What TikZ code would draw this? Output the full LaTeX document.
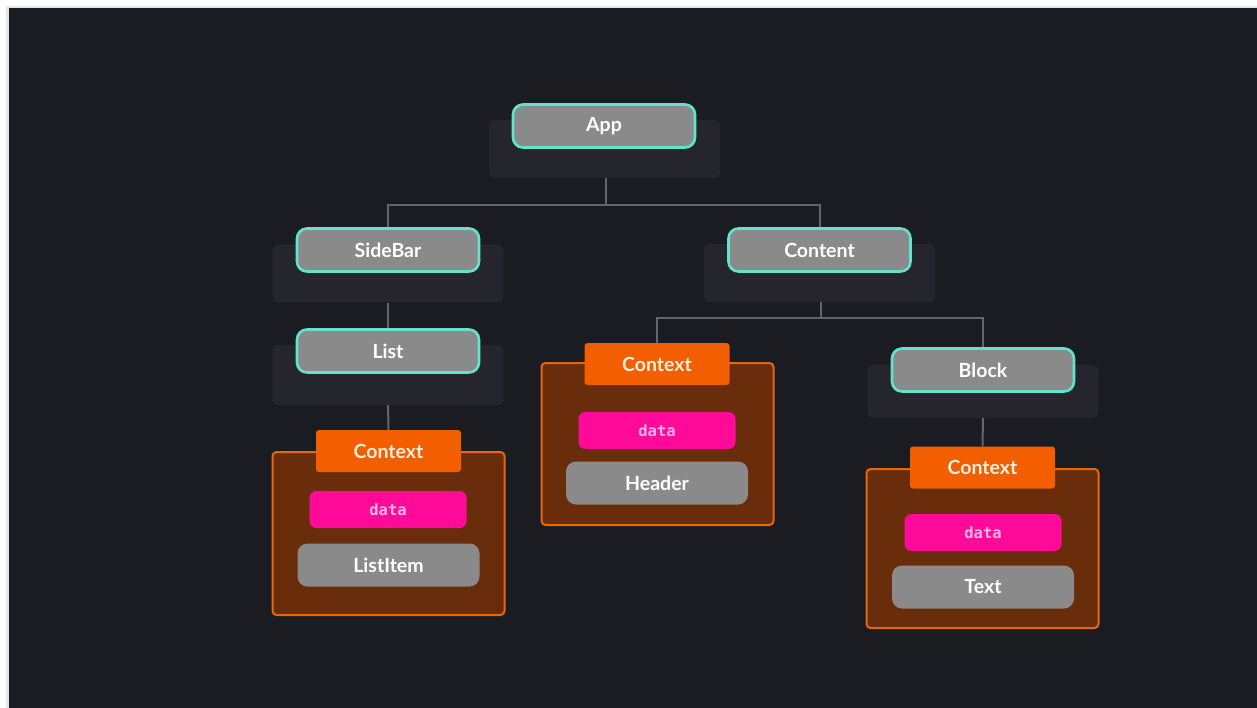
\documentclass[tikz,border=0pt]{standalone}
\usepackage{fontspec}
\setmainfont{Lato}
\newfontfamily\codefont{DejaVu Sans Mono}
\definecolor{bgdark}{HTML}{1B1B22}
\definecolor{panel}{HTML}{25262D}
\definecolor{compfill}{HTML}{8A8A8A}
\definecolor{cyanline}{HTML}{62E3CD}
\definecolor{ctxorange}{HTML}{F25E00}
\definecolor{ctxbox}{HTML}{6A2D0B}
\definecolor{ctxborder}{HTML}{E8660C}
\definecolor{datapink}{HTML}{FF0A99}
\definecolor{datatext}{HTML}{FBB6E4}
\definecolor{ctxtext}{HTML}{FFF0DC}
\definecolor{wire}{HTML}{62656C}
\tikzset{
  panelbox/.style={fill=panel, draw=none, rounded corners=5pt, minimum width=231pt, minimum height=58pt, inner sep=0pt},
  comp/.style={fill=compfill, draw=cyanline, line width=2.6pt, rounded corners=10pt, minimum width=182pt, minimum height=43pt, inner sep=0pt, text=white, font=\bfseries\fontsize{19.5}{21}\selectfont},
  ctxlabel/.style={fill=ctxorange, draw=none, rounded corners=3pt, minimum width=145pt, minimum height=42pt, inner sep=0pt, text=ctxtext, font=\bfseries\fontsize{19.5}{21}\selectfont},
  ctxcontainer/.style={fill=ctxbox, draw=ctxborder, line width=2pt, rounded corners=4pt, minimum width=232pt, inner sep=0pt},
  databox/.style={fill=datapink, draw=none, rounded corners=7pt, minimum width=157pt, minimum height=37pt, inner sep=0pt, text=datatext, font=\codefont\bfseries\fontsize{15.5}{17}\selectfont},
  innercomp/.style={fill=compfill, draw=none, rounded corners=10pt, minimum width=182pt, minimum height=43pt, inner sep=0pt, text=white, font=\bfseries\fontsize{19.5}{21}\selectfont},
  wireline/.style={draw=wire, line width=2pt},
}
\begin{document}
\begin{tikzpicture}[x=1pt,y=-1pt]
\fill[white] (0,0) rectangle (1257,708);
\fill[black!10] (6,6) rectangle (1257,708);
\fill[bgdark] (9,8) rectangle (1257,708);
\useasboundingbox (0,0) rectangle (1257,708);

% shadow panels
\node[panelbox] (appsh) at (604.5,149) {};
\node[panelbox] (sidesh) at (388,273.5) {};
\node[panelbox] (contsh) at (819.5,273) {};
\node[panelbox, minimum height=60pt] (listsh) at (388,375) {};
\node[panelbox, minimum height=53pt] (blocksh) at (983,391.5) {};

% containers
\node[ctxcontainer, minimum height=163pt] (box1) at (388.5,533.5) {};
\node[ctxcontainer, minimum height=162pt] (box2) at (657.5,444) {};
\node[ctxcontainer, minimum height=159pt] (box3) at (982.5,548.5) {};

% components
\node[comp] (app) at (604,126) {App};
\node[comp] (sidebar) at (388,250) {SideBar};
\node[comp] (content) at (819.5,250) {Content};
\node[comp] (list) at (388,351) {List};
\node[comp] (block) at (983,370) {Block};

% context labels
\node[ctxlabel] (ctx1) at (388.5,451) {Context};
\node[ctxlabel] (ctx2) at (657,364) {Context};
\node[ctxlabel] (ctx3) at (982.5,467.5) {Context};

% data
\node[databox] (data1) at (388,509.5) {data};
\node[databox] (data2) at (657,430.5) {data};
\node[databox] (data3) at (983,532.5) {data};

% inner components
\node[innercomp] (listitem) at (388.5,565) {ListItem};
\node[innercomp] (header) at (657,483) {Header};
\node[innercomp] (textc) at (983,587) {Text};

% connectors
\coordinate (appbus) at (606,205);
\draw[wireline] (appsh.south -| appbus) -- (appbus);
\draw[wireline] (appbus) -| (sidebar.north);
\draw[wireline] (appbus) -| (content.north);
\draw[wireline] (sidesh.south) -- (list.north);
\draw[wireline] (listsh.south) -- (ctx1.north);
\coordinate (contbus) at (821,318);
\draw[wireline] (contsh.south -| contbus) -- (contbus);
\draw[wireline] (contbus) -| (ctx2.north);
\draw[wireline] (contbus) -| (block.north);
\draw[wireline] (blocksh.south) -- (ctx3.north);
\end{tikzpicture}
\end{document}
